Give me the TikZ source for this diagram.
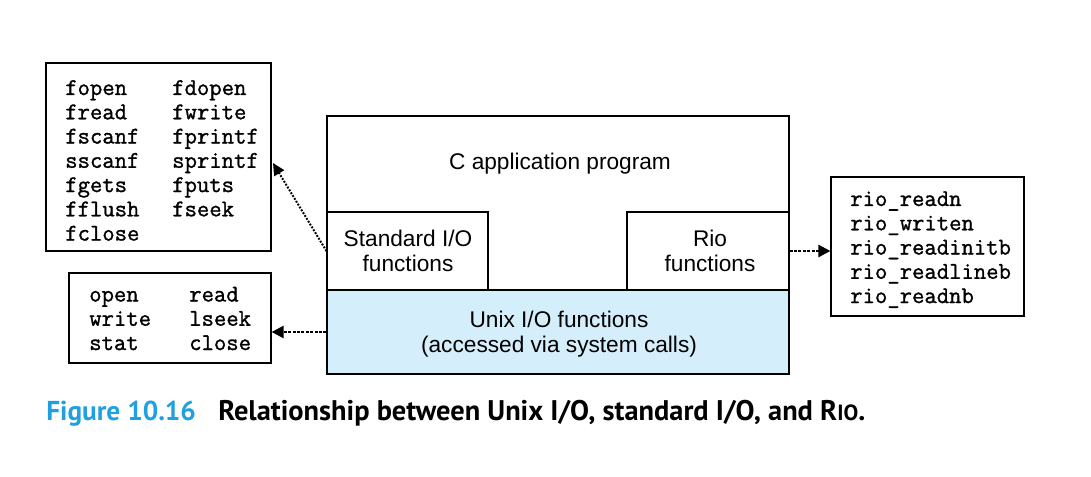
\documentclass[tikz,border=0pt]{standalone}
\usepackage{fontspec}
\setmainfont{Liberation Sans}
\newfontfamily\capfont{PT Sans}
\newfontfamily\codefont[FakeBold=1.2]{Latin Modern Mono}
\usetikzlibrary{arrows.meta,fit}
\definecolor{unixfill}{RGB}{213,238,251}
\definecolor{figblue}{RGB}{32,160,225}
\begin{document}
\begin{tikzpicture}[x=0.75pt,y=-0.75pt,
  box/.style={draw, line width=0.9pt, inner sep=0pt},
  code/.style={anchor=base west, inner sep=0pt,
    font=\codefont\fontsize{18}{18.2}\selectfont},
  label/.style={anchor=base, inner sep=0pt, align=center,
    font=\fontsize{17}{18.8}\selectfont},
  dotarrow/.style={line width=1.9pt, dash pattern=on 2.2pt off 1.1pt,
    -{Triangle[length=9pt,width=9pt]}},
  thindotarrow/.style={line width=1.5pt, dash pattern=on 1.4pt off 1.1pt,
    -{Triangle[length=9pt,width=8.5pt]}}]
\useasboundingbox (0,0) rectangle (1091,477);

% layered library stack
\node[box, fit={(327,116)(789,374)}] (app) {};
\node[box, fill=unixfill, fit={(327,290)(789,374)}] (unix) {};
\node[box, fill=white, fit={(327,212)(488,290)}] (stdio) {};
\node[box, fill=white, fit={(627,212)(789,290)}] (rio) {};

\node[label] (apptext) at (560,170) {C application program};
\node[label] (stdiotext) at (408,246.5) {\begin{tabular}[t]{@{}c@{}}Standard I/O\\functions\end{tabular}};
\node[label] (riotext) at (710,246.5) {\begin{tabular}[t]{@{}c@{}}Rio\\functions\end{tabular}};
\node[label] (unixtext) at (559,327) {\begin{tabular}[t]{@{}c@{}}Unix I/O functions\\(accessed via system calls)\end{tabular}};

% function lists
\node[box, fit={(46,63)(271,251)}] (stdlist) {};
\node[code] (stdcode) at (65,95) {\begin{tabular}[t]{@{}p{80.25pt}@{}l@{}}
fopen & fdopen\\ fread & fwrite\\ fscanf & fprintf\\ sscanf & sprintf\\
fgets & fputs\\ fflush & fseek\\ fclose & \end{tabular}};

\node[box, fit={(69,273)(271,363)}] (syslist) {};
\node[code] (syscode) at (89,301.5) {\begin{tabular}[t]{@{}p{75pt}@{}l@{}}
open & read\\ write & lseek\\ stat & close\end{tabular}};

\node[box, fit={(831,177)(1024,316)}] (riolist) {};
\node[code] (riocode) at (850,206) {\begin{tabular}[t]{@{}l@{}}
rio\_readn\\ rio\_writen\\ rio\_readinitb\\ rio\_readlineb\\ rio\_readnb\end{tabular}};

% connectors
\coordinate (stdtip) at (273,163);
\draw[thindotarrow] (stdio.west) -- (stdtip);
\draw[dotarrow] (unix.west) -- (syslist.east |- unix.west);
\draw[dotarrow] (rio.east) -- (riolist.west |- rio.east);

% caption
\node[anchor=base west, inner sep=0pt, font=\capfont\bfseries\fontsize{20.5}{21}\selectfont, text=figblue]
  (fignum) at (46,420) {Figure 10.16};
\node[anchor=base west, inner sep=0pt, font=\capfont\bfseries\fontsize{21.3}{22}\selectfont]
  (figcap) at (218,420) {Relationship between Unix I/O, standard I/O, and R{\fontsize{16.5}{17}\selectfont IO}.};
\end{tikzpicture}
\end{document}
